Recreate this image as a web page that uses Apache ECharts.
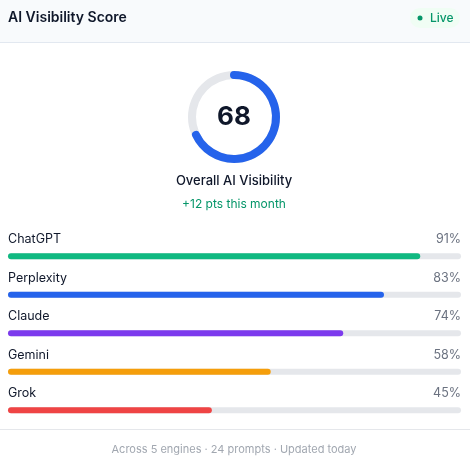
<!DOCTYPE html>
<html><head><meta charset="utf-8">
<script src="https://cdn.jsdelivr.net/npm/echarts@6/dist/echarts.min.js"></script>
<style>html,body{margin:0;padding:0;background:#fff}#c{width:470px;height:468px}</style>
</head><body><div id="c"></div>
<script>
const engines = ['ChatGPT','Perplexity','Claude','Gemini','Grok'];
const scores = [91,83,74,58,45];
const colors = ['#10b981','#2563eb','#7c3aed','#f59e0b','#ef4444'];
const overall = 68;
const title = 'AI Visibility Score';
const subtitle = 'Overall AI Visibility';
const delta = '+12 pts this month';
const footer = 'Across 5 engines · 24 prompts · Updated today';
const F = 'Inter, "Noto Sans", sans-serif';
const chart = echarts.init(document.getElementById('c'));
chart.setOption({
  animation:false,
  graphic:[
    {type:'rect',shape:{x:0,y:0,width:470,height:42},style:{fill:'#f8fafc'}},
    {type:'rect',shape:{x:0,y:42,width:470,height:1},style:{fill:'#e2e8f0'}},
    {type:'text',x:8,y:18,style:{text:title,font:'600 14px '+F,fill:'#0f172a',verticalAlign:'middle'}},
    {type:'rect',shape:{x:410,y:8,width:50,height:20,r:10},style:{fill:'#f0fdf4'}},
    {type:'circle',shape:{cx:420,cy:18,r:2.5},style:{fill:'#059669'}},
    {type:'text',x:430,y:18,style:{text:'Live',font:'500 12px '+F,fill:'#059669',verticalAlign:'middle'}},
    {type:'text',x:234,y:181,style:{text:subtitle,font:'500 13px '+F,fill:'#0f172a',align:'center',verticalAlign:'middle'}},
    {type:'text',x:234,y:204,style:{text:delta,font:'12px '+F,fill:'#059669',align:'center',verticalAlign:'middle'}},
    {type:'rect',shape:{x:0,y:429,width:470,height:1},style:{fill:'#e5e7eb'}},
    {type:'text',x:234,y:450,style:{text:footer,font:'11px '+F,fill:'#a1a7b0',align:'center',verticalAlign:'middle'}}
  ],
  grid:{left:8,right:9,top:237,height:192.5},
  xAxis:{type:'value',min:0,max:100,show:false},
  yAxis:{type:'category',data:engines,inverse:true,show:false},
  series:[
    {type:'gauge',center:[234,117],radius:46,startAngle:90,endAngle:-270,min:0,max:100,
     progress:{show:true,width:8,roundCap:true,itemStyle:{color:'#2563eb'}},
     axisLine:{lineStyle:{width:8,color:[[1,'#e5e7eb']]}},
     axisTick:{show:false},splitLine:{show:false},axisLabel:{show:false},pointer:{show:false},
     title:{show:false},
     detail:{offsetCenter:[0,0],fontSize:26,fontWeight:'bold',color:'#0f172a',fontFamily:F,formatter:'{value}'},
     data:[{value:overall}]},
    {type:'bar',data:engines.map(()=>100),barWidth:6,barGap:'-100%',silent:true,
     itemStyle:{color:'#e5e7eb',borderRadius:3},
     label:{show:true,position:[0,-14],formatter:p=>p.name,fontFamily:F,fontSize:12.5,color:'#0f172a',verticalAlign:'middle',align:'left'}},
    {type:'bar',data:scores.map(()=>100),barWidth:6,barGap:'-100%',silent:true,
     itemStyle:{color:'rgba(0,0,0,0)'},
     label:{show:true,position:['100%',-14],formatter:p=>scores[p.dataIndex]+'%',fontFamily:F,fontSize:12.5,color:'#6b7280',verticalAlign:'middle',align:'right'}},
    {type:'bar',data:scores.map((v,i)=>({value:v,itemStyle:{color:colors[i]}})),barWidth:6,barGap:'-100%',
     itemStyle:{borderRadius:3},z:3}
  ]
});
</script></body></html>
